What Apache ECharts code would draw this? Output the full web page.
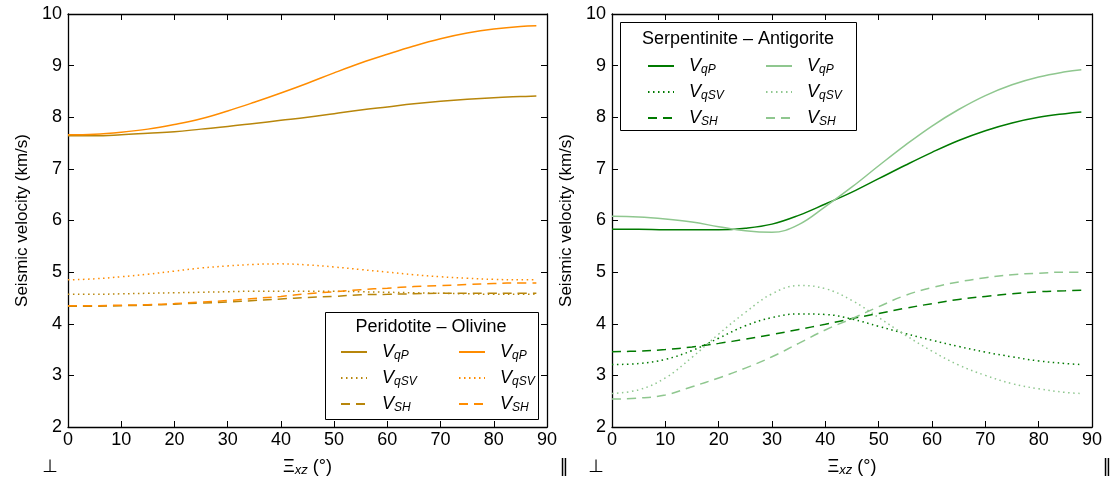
<!DOCTYPE html>
<html><head><meta charset="utf-8">
<script src="https://cdn.jsdelivr.net/npm/echarts@6/dist/echarts.min.js"></script>
<style>html,body{margin:0;padding:0;background:#fff}#c{width:1114px;height:489px}</style>
</head><body><div id="c"></div>
<script>
// Angles (degrees)
const angles = [0,5,10,15,20,25,30,35,40,45,50,55,60,65,70,75,80,85,88];
// Peridotite – Olivine (left panel)
const olDarkQP  = [7.64,7.64,7.66,7.69,7.72,7.77,7.82,7.88,7.94,8.00,8.07,8.14,8.20,8.26,8.31,8.35,8.38,8.40,8.41];
const olDarkQSV = [4.57,4.57,4.58,4.59,4.60,4.61,4.62,4.63,4.63,4.63,4.63,4.62,4.61,4.60,4.59,4.58,4.57,4.57,4.57];
const olDarkSH  = [4.34,4.34,4.35,4.36,4.38,4.40,4.42,4.45,4.48,4.51,4.53,4.56,4.57,4.58,4.59,4.59,4.59,4.59,4.59];
const olLightQP = [7.66,7.67,7.71,7.77,7.86,7.97,8.12,8.29,8.47,8.66,8.86,9.05,9.22,9.38,9.52,9.63,9.71,9.76,9.77];
const olLightQSV= [4.85,4.87,4.91,4.96,5.02,5.08,5.12,5.15,5.16,5.14,5.10,5.05,5.00,4.95,4.91,4.88,4.86,4.85,4.85];
const olLightSH = [4.35,4.35,4.36,4.37,4.39,4.42,4.45,4.49,4.53,4.58,4.62,4.66,4.69,4.72,4.74,4.76,4.78,4.79,4.79];
// Serpentinite – Antigorite (right panel)
const spDarkQP  = [5.83,5.83,5.82,5.82,5.82,5.85,5.93,6.10,6.32,6.55,6.81,7.07,7.32,7.55,7.74,7.89,8.00,8.07,8.10];
const spDarkQSV = [3.21,3.23,3.31,3.48,3.72,3.96,4.12,4.19,4.18,4.09,3.95,3.81,3.68,3.56,3.45,3.36,3.28,3.23,3.21];
const spDarkSH  = [3.46,3.47,3.50,3.55,3.62,3.70,3.79,3.89,3.99,4.10,4.20,4.30,4.39,4.47,4.53,4.58,4.62,4.64,4.65];
const spLightQP = [6.08,6.07,6.03,5.97,5.88,5.80,5.77,5.92,6.27,6.65,7.06,7.46,7.83,8.15,8.42,8.63,8.78,8.88,8.92];
const spLightQSV= [2.65,2.72,2.95,3.35,3.80,4.22,4.58,4.74,4.68,4.45,4.12,3.78,3.47,3.20,3.00,2.84,2.74,2.67,2.65];
const spLightSH = [2.54,2.56,2.62,2.78,2.95,3.14,3.36,3.62,3.88,4.10,4.33,4.55,4.70,4.81,4.89,4.95,4.98,5.00,5.00];
const xTicks = [0,10,20,30,40,50,60,70,80,90];
const yTicks = [2,3,4,5,6,7,8,9,10];

const FONT = 'Liberation Sans';
const C_OL_D = '#b8860b', C_OL_L = '#ff8c00', C_SP_D = '#007a00', C_SP_L = '#8fc78f';
const DOT = [1.5, 3.5], DASH = [9, 6];

function pairs(v){ return angles.map((a,i)=>[a, v[i]]); }
function mk(name, data, color, type, xi){
  return {name, type:'line', xAxisIndex:xi, yAxisIndex:xi, data:pairs(data), symbol:'none',
    smooth:0.4, lineStyle:{color, width:1.5, type}, itemStyle:{color}, silent:true, animation:false};
}
const grids = [
  {left:68, top:14, width:479, height:413},
  {left:612, top:14, width:480, height:413}
];
const axLine = {show:true, onZero:false, lineStyle:{color:'#000', width:1.3}};
const tick = {show:true, inside:true, length:6, lineStyle:{color:'#000', width:1}};
const lbl = {show:true, color:'#000', fontFamily:FONT, fontSize:18};
function xAx(g, pos, show){
  return {type:'value', gridIndex:g, position:pos, min:0, max:90, interval:10,
    axisLine:axLine, axisTick:tick, splitLine:{show:false},
    axisLabel: show ? Object.assign({margin:4, formatter:(v)=>xTicks.includes(v)?String(v):''}, lbl) : {show:false},
    name: show ? '{x|Ξ}{s|xz}{x| (°)}' : '', nameLocation:'middle', nameGap:30,
    nameTextStyle:{rich:{x:{fontFamily:FONT,fontSize:18,color:'#000'}, s:{fontFamily:FONT,fontSize:13,fontStyle:'italic',color:'#000',padding:[7,0,0,0]}}}};
}
function yAx(g, pos, show){
  return {type:'value', gridIndex:g, position:pos, min:2, max:10, interval:1,
    axisLine:axLine, axisTick:tick, splitLine:{show:false},
    axisLabel: show ? Object.assign({margin:6, formatter:(v)=>yTicks.includes(v)?String(v):''}, lbl) : {show:false},
    name: show ? 'Seismic velocity (km/s)' : '', nameLocation:'middle', nameGap:37,
    nameTextStyle:{fontFamily:FONT, fontSize:17, color:'#000'}};
}
function fmt(name){ const k = name.split(' ')[1]; return '{v|V}{s|'+k+'}'; }
const richLeg = {v:{fontFamily:FONT,fontSize:18,fontStyle:'italic',color:'#000'},
                 s:{fontFamily:FONT,fontSize:12,fontStyle:'italic',color:'#000',padding:[8,0,0,0]}};
function leg(names, left, top){
  return {data:names, orient:'vertical', left, top, itemWidth:26, itemHeight:14, itemGap:7,
    selectedMode:false, formatter:fmt, itemStyle:{opacity:0, borderWidth:0},
    textStyle:{rich:richLeg, padding:[0,0,0,10]}};
}
const option = {
  animation:false,
  grid: grids,
  xAxis:[xAx(0,'bottom',true), xAx(0,'top',false), xAx(1,'bottom',true), xAx(1,'top',false)],
  yAxis:[yAx(0,'left',true), yAx(0,'right',false), yAx(1,'left',true), yAx(1,'right',false)],
  legend:[
    leg(['olD qP','olD qSV','olD SH'], 335, 338),
    leg(['olL qP','olL qSV','olL SH'], 453, 338),
    leg(['spD qP','spD qSV','spD SH'], 642, 52),
    leg(['spL qP','spL qSV','spL SH'], 760, 52)
  ],
  series:[
    mk('olD qP', olDarkQP, C_OL_D, 'solid', 0),
    mk('olD qSV', olDarkQSV, C_OL_D, DOT, 0),
    mk('olD SH', olDarkSH, C_OL_D, DASH, 0),
    mk('olL qP', olLightQP, C_OL_L, 'solid', 0),
    mk('olL qSV', olLightQSV, C_OL_L, DOT, 0),
    mk('olL SH', olLightSH, C_OL_L, DASH, 0),
    mk('spD qP', spDarkQP, C_SP_D, 'solid', 2),
    mk('spD qSV', spDarkQSV, C_SP_D, DOT, 2),
    mk('spD SH', spDarkSH, C_SP_D, DASH, 2),
    mk('spL qP', spLightQP, C_SP_L, 'solid', 2),
    mk('spL qSV', spLightQSV, C_SP_L, DOT, 2),
    mk('spL SH', spLightSH, C_SP_L, DASH, 2)
  ],
  graphic:[
    {type:'rect', shape:{x:325.5, y:312.5, width:213, height:107}, style:{fill:'#fff', stroke:'#000', lineWidth:1}, z:-1},
    {type:'text', x:431, y:327, style:{text:'Peridotite – Olivine', font:'18px "Liberation Sans"', fill:'#000', align:'center', verticalAlign:'middle'}},
    {type:'rect', shape:{x:620.5, y:22.5, width:236, height:108}, style:{fill:'#fff', stroke:'#000', lineWidth:1}, z:-1},
    {type:'text', x:738, y:39, style:{text:'Serpentinite – Antigorite', font:'18px "Liberation Sans"', fill:'#000', align:'center', verticalAlign:'middle'}},
    {type:'text', x:50, y:467, style:{text:'⊥', font:'18px "DejaVu Sans"', fill:'#000', align:'center', verticalAlign:'middle'}},
    {type:'text', x:564, y:467, style:{text:'‖', font:'18px "DejaVu Sans"', fill:'#000', align:'center', verticalAlign:'middle'}},
    {type:'text', x:596, y:467, style:{text:'⊥', font:'18px "DejaVu Sans"', fill:'#000', align:'center', verticalAlign:'middle'}},
    {type:'text', x:1107, y:467, style:{text:'‖', font:'18px "DejaVu Sans"', fill:'#000', align:'center', verticalAlign:'middle'}}
  ]
};
const chart = echarts.init(document.getElementById('c'), null, {renderer:'canvas'});
chart.setOption(option);
</script></body></html>
